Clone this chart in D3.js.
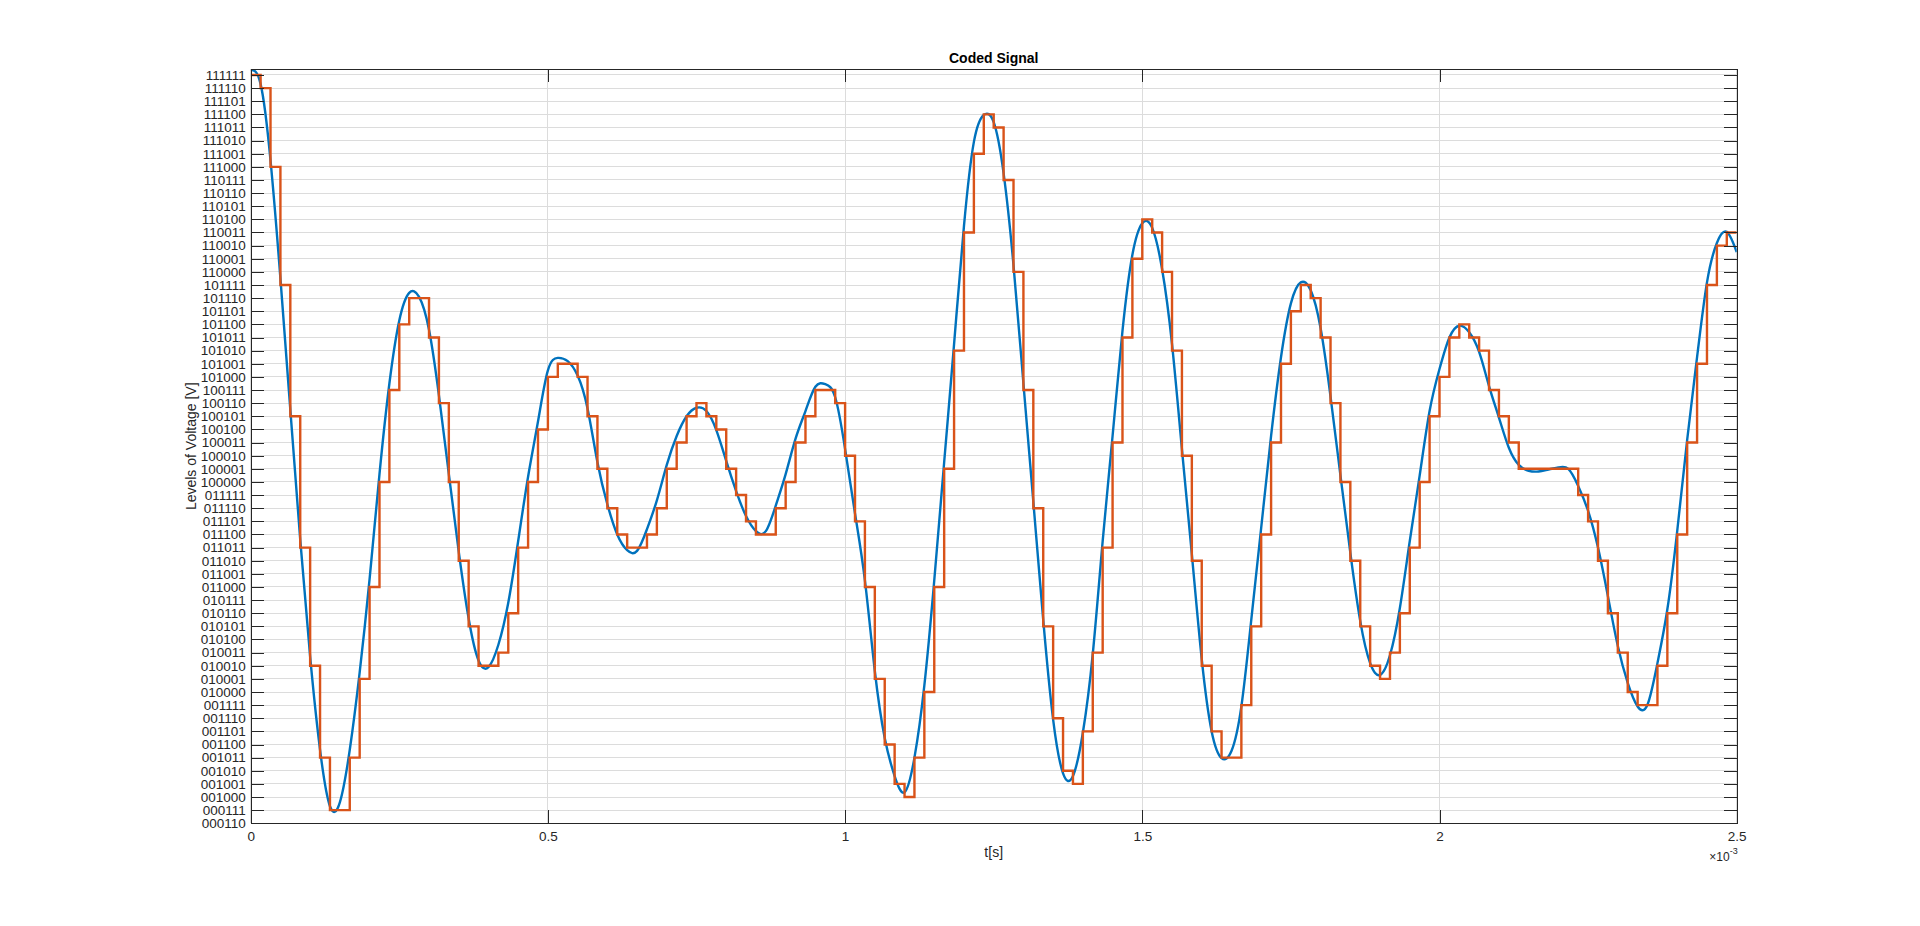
<!DOCTYPE html>
<html>
<head>
<meta charset="utf-8">
<script src="https://cdn.jsdelivr.net/npm/d3@7"></script>
<style>
  html, body { margin: 0; padding: 0; background: #ffffff; }
  svg { display: block; }
  text { font-family: "Liberation Sans", Arial, Helvetica, sans-serif; }
</style>
</head>
<body>
<svg id="chart" width="1920" height="926"></svg>
<script>
// ---------------- data ----------------
const chartTitle = "Coded Signal";
const xLabel = "t[s]";
const yLabel = "Levels of Voltage [V]";
const sampleCount = 150;          // samples over the window
const tEnd = 2.5e-3;              // seconds

// x ticks (seconds) and labels (×10^-3)
const xTickValues = [0, 0.5e-3, 1.0e-3, 1.5e-3, 2.0e-3, 2.5e-3];
const xTickLabels = ["0", "0.5", "1", "1.5", "2", "2.5"];

// y ticks: quantization levels and their codes
const yTickValues = [6,7,8,9,10,11,12,13,14,15,16,17,18,19,20,21,22,23,24,25,26,27,28,29,30,31,32,33,34,35,36,37,38,39,40,41,42,43,44,45,46,47,48,49,50,51,52,53,54,55,56,57,58,59,60,61,62,63];
const yTickLabels = ["000110","000111","001000","001001","001010","001011","001100","001101","001110","001111",
  "010000","010001","010010","010011","010100","010101","010110","010111","011000","011001",
  "011010","011011","011100","011101","011110","011111","100000","100001","100010","100011",
  "100100","100101","100110","100111","101000","101001","101010","101011","101100","101101",
  "101110","101111","110000","110001","110010","110011","110100","110101","110110","110111",
  "111000","111001","111010","111011","111100","111101","111110","111111"];

// analog signal (in level units) read at each sample instant k = 0..150
const analogValues = [
  63.4, 62.3, 56.5, 47.5, 37.5, 27.6, 18.7, 11.6, 7.3, 7.6,
  11.6, 17.5, 24.6, 32.6, 39.5, 44.3, 46.4, 46.1, 43.6, 38.6,
  32.6, 26.7, 21.6, 18.4, 17.9, 19.6, 22.8, 27.5, 32.4, 36.6,
  40.5, 41.45, 41.2, 40.1, 37.6, 33.5, 30.3, 28.0, 26.8, 26.75,
  28.4, 30.6, 33.3, 35.5, 37.0, 37.65, 37.4, 35.95, 33.6, 31.3,
  29.4, 28.25, 28.25, 30.2, 32.6, 35.3, 37.4, 39.25, 39.45, 38.45,
  34.5, 29.6, 24.5, 17.6, 12.5, 9.6, 8.36, 11.0, 16.5, 24.5,
  33.5, 42.5, 51.5, 57.9, 59.95, 59.4, 55.5, 48.5, 39.5, 30.5,
  21.5, 13.9, 9.8, 9.6, 12.9, 18.9, 27.5, 35.5, 43.5, 49.3,
  51.7, 51.35, 48.2, 42.5, 34.5, 26.5, 18.5, 13.0, 10.97, 11.5,
  14.9, 21.5, 28.5, 35.5, 41.5, 45.6, 47.2, 46.6, 43.7, 38.5,
  32.5, 26.6, 21.4, 18.2, 17.3, 18.8, 22.4, 27.5, 32.5, 37.4,
  40.6, 43.0, 43.9, 43.4, 41.9, 39.3, 36.9, 34.6, 33.3, 32.85,
  32.8, 32.95, 33.1, 33.0, 31.7, 29.8, 27.0, 23.3, 19.5, 16.7,
  14.9, 15.05, 18.2, 22.3, 28.3, 35.2, 41.5, 47.2, 50.2, 51.05,
  49.5
];

// coded (quantized, held) levels at each sample k = 0..150
const codedLevels = [
  63, 62, 56, 47, 37, 27, 18, 11, 7, 7,
  11, 17, 24, 32, 39, 44, 46, 46, 43, 38,
  32, 26, 21, 18, 18, 19, 22, 27, 32, 36,
  40, 41, 41, 40, 37, 33, 30, 28, 27, 27,
  28, 30, 33, 35, 37, 38, 37, 36, 33, 31,
  29, 28, 28, 30, 32, 35, 37, 39, 39, 38,
  34, 29, 24, 17, 12, 9, 8, 11, 16, 24,
  33, 42, 51, 57, 60, 59, 55, 48, 39, 30,
  21, 14, 10, 9, 13, 19, 27, 35, 43, 49,
  52, 51, 48, 42, 34, 26, 18, 13, 11, 11,
  15, 21, 28, 35, 41, 45, 47, 46, 43, 38,
  32, 26, 21, 18, 17, 19, 22, 27, 32, 37,
  40, 43, 44, 43, 42, 39, 37, 35, 33, 33,
  33, 33, 33, 33, 31, 29, 26, 22, 19, 16,
  15, 15, 18, 22, 28, 35, 41, 47, 50, 51,
  51
];

// ---------------- layout ----------------
const plot = { left: 250.7, right: 1736.7, top: 69.3, bottom: 823.3 };
const yDomain = [6, 63.43];
const colors = { analog: "#0072BD", coded: "#D95319", axis: "#262626", grid: "#dcdcdc" };

const svg = d3.select("#chart");

const x = d3.scaleLinear().domain([0, tEnd]).range([plot.left, plot.right]);
const y = d3.scaleLinear().domain(yDomain).range([plot.bottom, plot.top]);

const sampleTime = k => k * tEnd / sampleCount;
const analogData = analogValues.map((v, k) => ({ t: sampleTime(k), v }));
const codedData = codedLevels.map((v, k) => ({ t: sampleTime(k), v }));

// grid
const grid = svg.append("g");
grid.selectAll("line.gy").data(yTickValues).join("line")
  .attr("x1", plot.left).attr("x2", plot.right)
  .attr("y1", d => y(d)).attr("y2", d => y(d))
  .attr("stroke", colors.grid).attr("stroke-width", 1).attr("shape-rendering", "crispEdges");
grid.selectAll("line.gx").data(xTickValues).join("line")
  .attr("y1", plot.top).attr("y2", plot.bottom)
  .attr("x1", d => x(d)).attr("x2", d => x(d))
  .attr("stroke", colors.grid).attr("stroke-width", 1).attr("shape-rendering", "crispEdges");

// clip
svg.append("defs").append("clipPath").attr("id", "clip")
  .append("rect").attr("x", plot.left).attr("y", plot.top)
  .attr("width", plot.right - plot.left).attr("height", plot.bottom - plot.top);

const lines = svg.append("g").attr("clip-path", "url(#clip)");

lines.append("path").datum(analogData)
  .attr("fill", "none").attr("stroke", colors.analog).attr("stroke-width", 2.4)
  .attr("stroke-linejoin", "round")
  .attr("d", d3.line().x(d => x(d.t)).y(d => y(d.v)).curve(d3.curveNatural));

lines.append("path").datum(codedData)
  .attr("fill", "none").attr("stroke", colors.coded).attr("stroke-width", 2.4)
  .attr("stroke-linejoin", "miter")
  .attr("d", d3.line().x(d => x(d.t)).y(d => y(d.v)).curve(d3.curveStepAfter));

// axes
const tickLen = 13;
function styleAxis(g) {
  g.selectAll("path.domain").attr("stroke", colors.axis).attr("stroke-width", 1);
  g.selectAll(".tick line").attr("stroke", colors.axis).attr("stroke-width", 1);
  g.selectAll(".tick text").attr("fill", colors.axis)
    .style("font-family", '"Liberation Sans", Arial, sans-serif').style("font-size", "13.5px");
  g.attr("shape-rendering", "crispEdges");
}

svg.append("g").attr("transform", `translate(${plot.left},0)`)
  .call(d3.axisLeft(y).tickValues(yTickValues).tickFormat((d, i) => yTickLabels[i])
    .tickSizeInner(-tickLen).tickSizeOuter(0).tickPadding(5))
  .call(styleAxis);

svg.append("g").attr("transform", `translate(${plot.right},0)`)
  .call(d3.axisRight(y).tickValues(yTickValues).tickFormat(() => "")
    .tickSizeInner(-tickLen).tickSizeOuter(0))
  .call(styleAxis);

svg.append("g").attr("transform", `translate(0,${plot.bottom})`)
  .call(d3.axisBottom(x).tickValues(xTickValues).tickFormat((d, i) => xTickLabels[i])
    .tickSizeInner(-tickLen).tickSizeOuter(0).tickPadding(8))
  .call(styleAxis);

svg.append("g").attr("transform", `translate(0,${plot.top})`)
  .call(d3.axisTop(x).tickValues(xTickValues).tickFormat(() => "")
    .tickSizeInner(-tickLen).tickSizeOuter(0))
  .call(styleAxis);

// title
svg.append("text")
  .attr("x", (plot.left + plot.right) / 2).attr("y", 63)
  .attr("text-anchor", "middle")
  .style("font-size", "14px").style("font-weight", "bold").attr("fill", "#000")
  .text(chartTitle);

// x label
svg.append("text")
  .attr("x", (plot.left + plot.right) / 2).attr("y", 857)
  .attr("text-anchor", "middle")
  .style("font-size", "14px").attr("fill", colors.axis)
  .text(xLabel);

// y label
svg.append("text")
  .attr("transform", `translate(196,${(plot.top + plot.bottom) / 2}) rotate(-90)`)
  .attr("text-anchor", "middle")
  .style("font-size", "14px").attr("fill", colors.axis)
  .text(yLabel);

// exponent label
const expo = svg.append("text")
  .attr("x", plot.right + 1).attr("y", 861)
  .attr("text-anchor", "end")
  .style("font-size", "12px").attr("fill", colors.axis);
expo.append("tspan").text("\u00d710");
expo.append("tspan").attr("dy", -7).style("font-size", "9px").text("-3");
</script>
</body>
</html>
